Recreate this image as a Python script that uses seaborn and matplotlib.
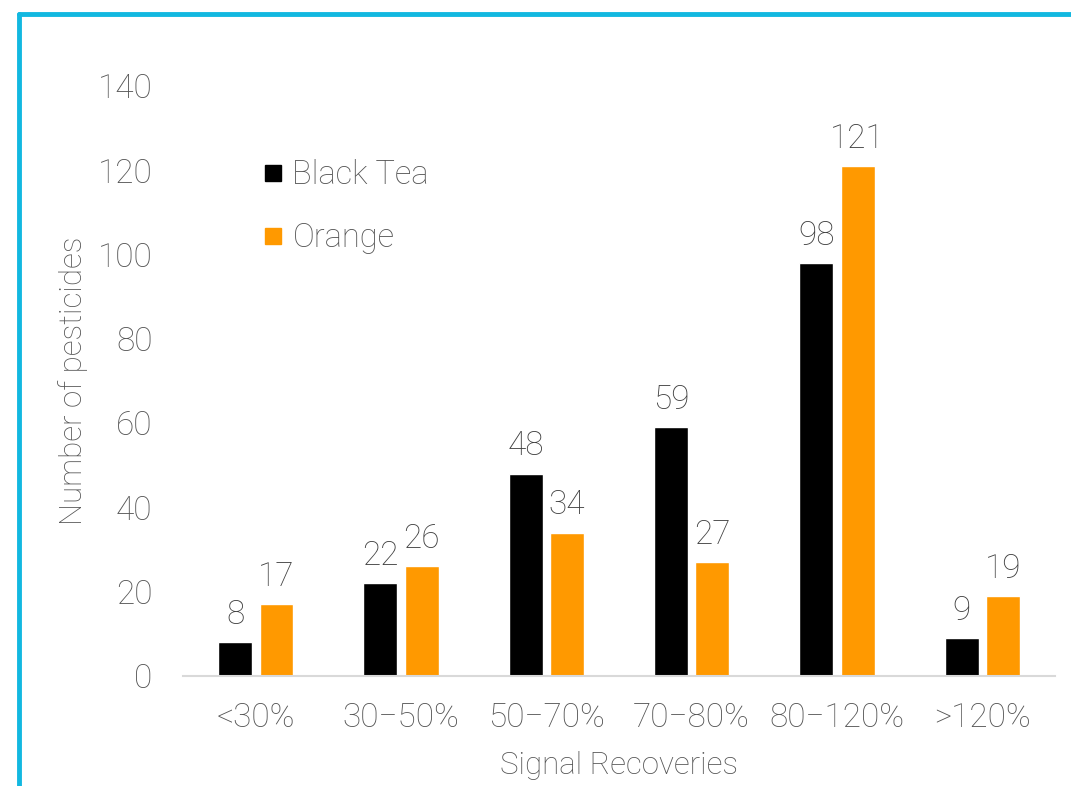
import pandas as pd
import numpy as np
import matplotlib.pyplot as plt
import seaborn as sns
from matplotlib.lines import Line2D

# data
categories = ["<30%", "30\u221250%", "50\u221270%", "70\u221280%", "80\u2212120%", ">120%"]
black_tea = [8, 22, 48, 59, 98, 9]
orange = [17, 26, 34, 27, 121, 19]
series_names = ["Black Tea", "Orange"]
colors = ["#000000", "#FF9900"]

df = pd.DataFrame({
    "Signal Recoveries": categories * 2,
    "count": black_tea + orange,
    "sample": [series_names[0]] * len(categories) + [series_names[1]] * len(categories),
})

sns.set_style("white")
plt.rcParams['font.family'] = ['Roboto', 'DejaVu Sans']
plt.rcParams['font.weight'] = 'light'
plt.rcParams['axes.labelweight'] = 'light'
text_gray = "#555555"

fig = plt.figure(figsize=(10.71, 7.86), dpi=100)
ax = fig.add_axes([0.171, 0.140, 0.814, 0.751])

sns.barplot(data=df, x="Signal Recoveries", y="count", hue="sample",
            palette=colors, width=0.57, gap=0.18, ax=ax, saturation=1)

for cont in ax.containers:
    ax.bar_label(cont, padding=8, fontsize=24, color="#404040", fontweight='light')

ax.set_ylim(0, 140)
ax.set_yticks(range(0, 141, 20))
ax.set_xlim(-0.5, len(categories) - 0.5)
ax.tick_params(axis='x', length=0, labelsize=24, colors=text_gray, pad=19)
ax.tick_params(axis='y', length=0, labelsize=24, colors=text_gray, pad=22)
ax.set_ylabel("Number of pesticides", fontsize=22.5, color=text_gray, labelpad=7)
ax.set_xlabel("Signal Recoveries", fontsize=22.5, color=text_gray, labelpad=12)

for s in ["top", "right", "left"]:
    ax.spines[s].set_visible(False)
ax.spines["bottom"].set_color("#d9d9d9")
ax.spines["bottom"].set_linewidth(1.5)

handles = [Line2D([0], [0], marker='s', linestyle='', color=c, markersize=12) for c in colors]
leg = ax.legend(handles, series_names, loc="upper left", bbox_to_anchor=(0.058, 0.925),
                frameon=False, fontsize=23.5, handlelength=0.6, handletextpad=0.3,
                labelspacing=0.95, labelcolor=text_gray)

# cyan frame at top and left
fig.add_artist(Line2D([0.0177, 1.0], [0.982, 0.982], color="#12B8E0", linewidth=3.5))
fig.add_artist(Line2D([0.0177, 0.0177], [0.0, 0.982], color="#12B8E0", linewidth=3.5))

fig.savefig("out.png", dpi=100)
